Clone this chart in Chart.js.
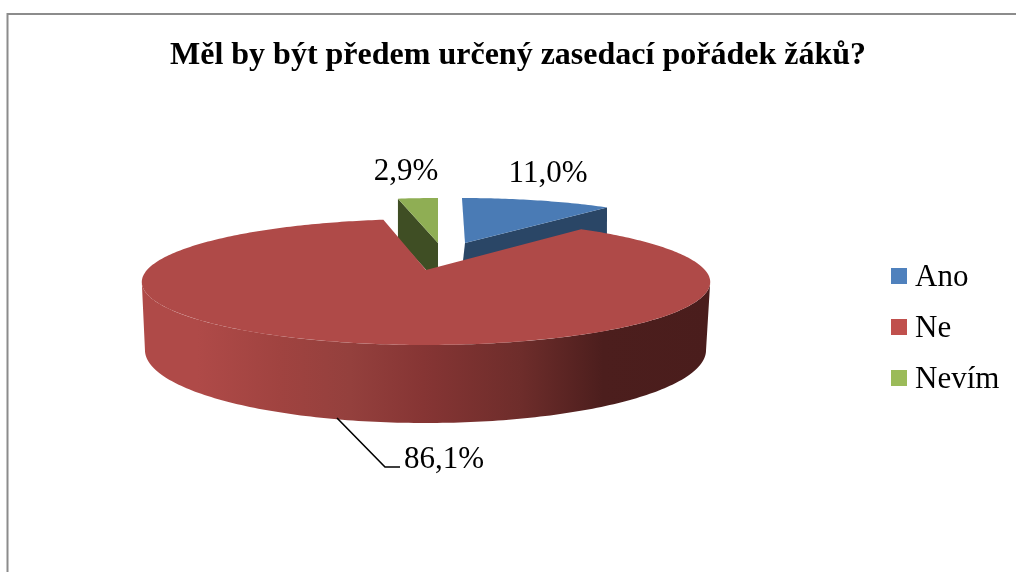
<!DOCTYPE html>
<html>
<head>
<meta charset="utf-8">
<style>html,body{margin:0;padding:0;background:#fff}#w{position:absolute;left:0;top:0;width:1016px;height:572px}</style>
<script src="https://cdn.jsdelivr.net/npm/chart.js@4/dist/chart.umd.js"></script>
</head>
<body>
<div id="w"><canvas id="c" width="1016" height="572"></canvas></div>
<script>
const chartTitle = 'Měl by být předem určený zasedací pořádek žáků?';
const categories = ['Ano', 'Ne', 'Nevím'];
const shares = [11.0, 86.1, 2.9];
const legendColors = ['#4F81BD', '#C0504D', '#9BBB59'];
const topColors = ['#4A7BB5', '#AF4A48', '#8FAE54'];
const cutColors = ['#2A4666', '#4A1D1C', '#3F4E24'];
const SERIF = '"Liberation Serif", "Times New Roman", serif';

// Perspective frames for the exploded 3D slices (screen geometry only)
const frames = [
  {top:{x:465,y:243,a:50.4,b:247.5,c:3.4,k:.12}, low:{x:460.5,y:283,a:50.4,b:255,c:3.4,k:.12}, cut:'end'},
  {top:{x:426,y:270,a:60.7,b:279,c:0,k:.1905}, low:{x:425.5,y:336.1,a:70.35,b:275.4,c:0,k:.1905}},
  {top:{x:438,y:243,a:50.4,b:247,c:0,k:.12}, low:{x:438,y:283,a:50.4,b:247,c:0,k:.12}, cut:'start'}
];
const labelSpots = [[548,174],[444,460],[406,172]];
const leader = [[337,418],[385,467],[400,467]];
const wallStops = [[142,'#AF4A48'],[197,'#AF4A48'],[280,'#A04340'],[350,'#94403D'],[423,'#863534'],[520,'#6E2D2B'],[603,'#4C1E1D'],[710,'#4A1D1C']];

function proj(g, ang){
  const u = Math.cos(ang), v = Math.sin(ang), D = 1 - g.k * v;
  return [g.x + (g.b * u + g.c * v) / D, g.y + g.a * v / D];
}
function trace(ctx, g, a0, a1, first){
  const n = Math.max(8, Math.ceil(Math.abs(a1 - a0) * 60));
  for (let i = 0; i <= n; i++){
    const p = proj(g, a0 + (a1 - a0) * i / n);
    if (i === 0 && first) ctx.moveTo(p[0], p[1]); else ctx.lineTo(p[0], p[1]);
  }
}
function topFace(ctx, arc, f, color){
  ctx.beginPath();
  ctx.moveTo(f.top.x, f.top.y);
  trace(ctx, f.top, arc.startAngle, arc.endAngle, false);
  ctx.closePath();
  ctx.fillStyle = color;
  ctx.fill();
}
function cutFace(ctx, arc, f, color){
  const ang = f.cut === 'end' ? arc.endAngle : arc.startAngle;
  const a = proj(f.top, ang), b = proj(f.low, ang);
  ctx.beginPath();
  ctx.moveTo(f.top.x, f.top.y);
  ctx.lineTo(a[0], a[1]);
  ctx.lineTo(b[0], b[1]);
  ctx.lineTo(f.low.x, f.low.y);
  ctx.closePath();
  ctx.fillStyle = color;
  ctx.fill();
}
const pie3d = {
  id: 'pie3d',
  beforeDraw(chart){
    const ctx = chart.ctx;
    ctx.save();
    ctx.fillStyle = '#fff';
    ctx.fillRect(0, 0, chart.width, chart.height);
    ctx.strokeStyle = '#8c8c8c';
    ctx.lineWidth = 2;
    ctx.beginPath();
    ctx.moveTo(7.5, 572); ctx.lineTo(7.5, 14); ctx.lineTo(1016, 14);
    ctx.stroke();
    ctx.restore();
  },
  beforeDatasetDraw(chart){
    const ctx = chart.ctx, arcs = chart.getDatasetMeta(0).data;
    ctx.save();
    [0, 2].forEach(i => {
      cutFace(ctx, arcs[i], frames[i], cutColors[i]);
      topFace(ctx, arcs[i], frames[i], topColors[i]);
    });
    // red outer wall, front half only
    const f = frames[1], s = Math.asin(0.19);
    ctx.beginPath();
    trace(ctx, f.top, s, Math.PI - s, true);
    trace(ctx, f.low, Math.PI - s, s, false);
    ctx.closePath();
    const grad = ctx.createLinearGradient(142, 0, 710, 0);
    wallStops.forEach(w => grad.addColorStop((w[0] - 142) / 568, w[1]));
    ctx.fillStyle = grad;
    ctx.fill();
    topFace(ctx, arcs[1], f, topColors[1]);
    ctx.restore();
    return false;
  },
  afterDatasetsDraw(chart){
    const ctx = chart.ctx;
    ctx.save();
    ctx.strokeStyle = '#000';
    ctx.lineWidth = 1.6;
    ctx.beginPath();
    leader.forEach((p, i) => i ? ctx.lineTo(p[0], p[1]) : ctx.moveTo(p[0], p[1]));
    ctx.stroke();
    ctx.fillStyle = '#000';
    ctx.font = '31px ' + SERIF;
    ctx.textAlign = 'center';
    ctx.textBaseline = 'middle';
    shares.forEach((v, i) => {
      ctx.fillText(v.toFixed(1).replace('.', ',') + '%', labelSpots[i][0], labelSpots[i][1]);
    });
    // legend
    ctx.textAlign = 'left';
    categories.forEach((name, i) => {
      const y = 276 + i * 51;
      ctx.fillStyle = legendColors[i];
      ctx.fillRect(891, y - 8, 16, 16);
      ctx.fillStyle = '#000';
      ctx.fillText(name, 915, y + 2);
    });
    ctx.restore();
  }
};

new Chart(document.getElementById('c'), {
  type: 'pie',
  data: { labels: categories, datasets: [{ data: shares, backgroundColor: topColors, borderWidth: 0 }] },
  options: {
    responsive: false,
    animation: false,
    layout: { padding: { left: 20, top: 0 } },
    plugins: {
      legend: { display: false },
      tooltip: { enabled: false },
      title: {
        display: true,
        text: chartTitle,
        color: '#000',
        font: { family: SERIF, size: 32, weight: 'bold' },
        padding: { top: 37, bottom: 10 }
      }
    }
  },
  plugins: [pie3d]
});
</script>
</body>
</html>
